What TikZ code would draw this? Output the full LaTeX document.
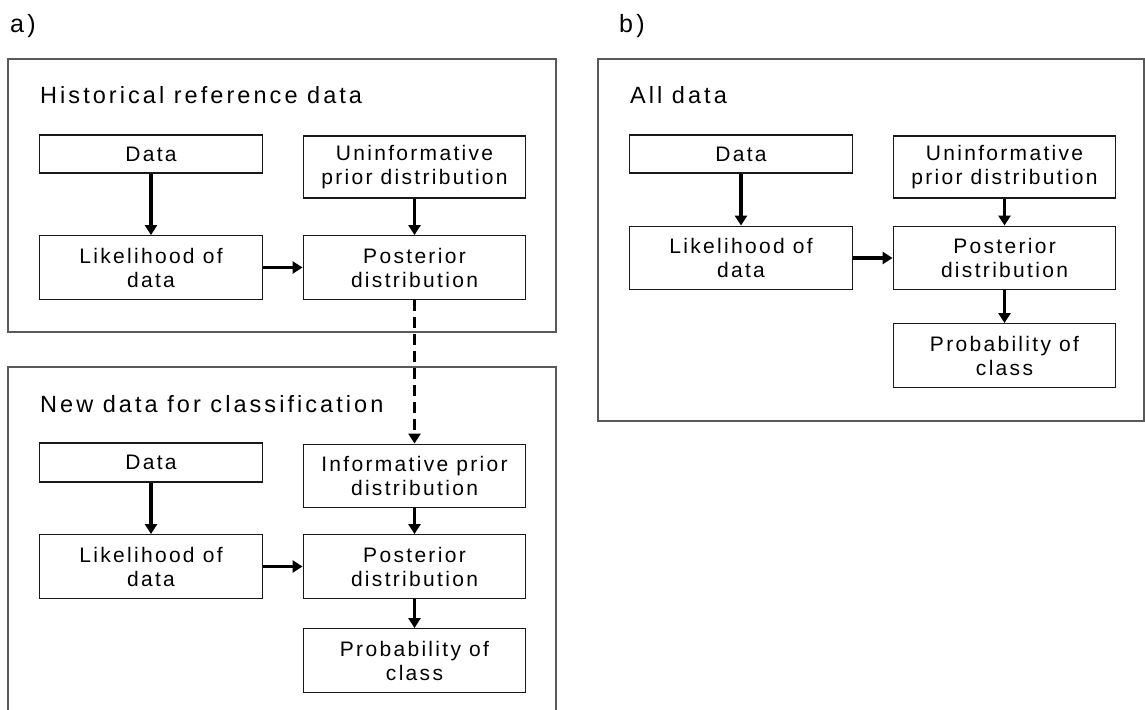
\documentclass[tikz,border=0pt]{standalone}
\usepackage{fontspec}
\setmainfont{Liberation Sans}
\newfontfamily\spacedfont{Liberation Sans}[LetterSpace=11]
\newfontfamily\titlefont{Liberation Sans}[LetterSpace=13]
\usetikzlibrary{arrows.meta}
\begin{document}
\begin{tikzpicture}[x=1pt,y=-1pt,
  stepbox/.style={draw=black!90, line width=1.4pt, rectangle, inner sep=0pt,
    minimum width=222.5pt, align=center,
    font=\spacedfont\fontsize{21}{24}\selectfont},
  onerow/.style={stepbox, minimum height=38pt},
  tworow/.style={stepbox, minimum height=63.5pt},
  panel/.style={draw=black!65, line width=1.5pt},
  flow/.style={line width=3.2pt, -{Triangle[length=10pt,width=12pt]}},
  paneltitle/.style={anchor=base west, inner sep=0pt,
    font=\titlefont\fontsize{23.5}{26}\selectfont},
  panellabel/.style={anchor=base west, inner sep=0pt,
    font=\titlefont\fontsize{25}{28}\selectfont}]
\useasboundingbox (0,0) rectangle (1145,709);
\clip (0,0) rectangle (1145,709);

% panel labels
\node[panellabel] (labA) at (10,33) {a)};
\node[panellabel] (labB) at (619,33) {b)};

% ---- a) historical reference data ----
\draw[panel] (8,59) rectangle (556,332);
\node[paneltitle] (titA1) at (40,103) {Historical reference data};
\node[onerow] (a1data)  at (151,154)   {Data};
\node[tworow, minimum height=62pt] (a1prior) at (414.5,167) {Uninformative\\prior distribution};
\node[tworow] (a1lik)   at (151,267.5) {Likelihood of\\data};
\node[tworow] (a1post)  at (414.5,267.5) {Posterior\\distribution};
\draw[flow] (a1data) -- (a1lik);
\draw[flow] (a1prior) -- (a1post);
\draw[flow] (a1lik) -- (a1post);

% ---- a) new data for classification ----
\draw[panel] (8,740) -- (8,367) -- (556,367) -- (556,740);
\node[paneltitle] (titA2) at (40,412) {New data for classification};
\node[onerow, minimum height=39pt] (a2data) at (151,462.5) {Data};
\node[tworow] (a2prior) at (414.5,476) {Informative prior\\distribution};
\node[tworow] (a2lik)   at (151,566.5) {Likelihood of\\data};
\node[tworow] (a2post)  at (414.5,566.5) {Posterior\\distribution};
\node[tworow] (a2prob)  at (414.5,660.5) {Probability of\\class};
\draw[flow] (a2data) -- (a2lik);
\draw[flow] (a2prior) -- (a2post);
\draw[flow] (a2lik) -- (a2post);
\draw[flow] (a2post) -- (a2prob);

% posterior of the reference data becomes the new prior
\draw[flow, dash pattern=on 11pt off 6pt] (a1post) -- (a2prior);

% ---- b) all data ----
\draw[panel] (598,59) rectangle (1144,421);
\node[paneltitle] (titB) at (630,103) {All data};
\node[onerow] (bdata)  at (741,154)    {Data};
\node[tworow, minimum height=62pt] (bprior) at (1004.5,167) {Uninformative\\prior distribution};
\node[tworow] (blik)   at (741,258)    {Likelihood of\\data};
\node[tworow] (bpost)  at (1004.5,258) {Posterior\\distribution};
\node[tworow] (bprob)  at (1004.5,355.5) {Probability of\\class};
\draw[flow] (bdata) -- (blik);
\draw[flow] (bprior) -- (bpost);
\draw[flow] (blik) -- (bpost);
\draw[flow] (bpost) -- (bprob);
\end{tikzpicture}
\end{document}
